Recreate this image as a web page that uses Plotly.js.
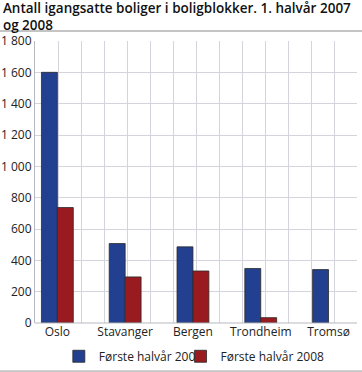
<!DOCTYPE html>
<html><head><meta charset="utf-8">
<script src="https://cdn.plot.ly/plotly-3.0.1.min.js"></script>
<style>html,body{margin:0;padding:0;background:#fff;}#c{width:362px;height:372px;}</style>
</head><body><div id="c"></div>
<script>
const categories = ["Oslo", "Stavanger", "Bergen", "Trondheim", "Tromsø"];
const series2007 = [1600, 507, 486, 348, 341];
const series2008 = [737, 294, 332, 34, null];
const seriesNames = ["Første halvår 2007", "Første halvår 2008"];
const yTicks = [0, 200, 400, 600, 800, 1000, 1200, 1400, 1600, 1800];

const font = "Open Sans, Noto Sans, sans-serif";
const traces = [
  {type: "scatter", x: [0, 14], y: [0, 0], xaxis: "x", yaxis: "y",
   mode: "lines", line: {width: 0}, showlegend: false, hoverinfo: "skip"},
  {type: "bar", x: categories, y: series2007, name: seriesNames[0], xaxis: "x2", legend: "legend",
   marker: {color: "#233f8f", line: {color: "#2a2a2a", width: 0.8}}},
  {type: "bar", x: categories, y: series2008, name: seriesNames[1], xaxis: "x2", legend: "legend2",
   marker: {color: "#9a1b1f", line: {color: "#2a2a2a", width: 0.8}}}
];
const legendStyle = {orientation: "h", xref: "paper", xanchor: "left", bgcolor: "rgba(0,0,0,0)",
  y: -0.118, yanchor: "middle", font: {size: 12, color: "#222"}};
const layout = {
  width: 362, height: 372,
  margin: {l: 34.5, r: 5, t: 41, b: 49.3, autoexpand: false},
  paper_bgcolor: "#fff", plot_bgcolor: "#fff",
  font: {family: font, size: 12, color: "#222"},
  separators: ", ",
  title: {text: "Antall igangsatte boliger i boligblokker. 1. halvår 2007<br>og 2008",
          font: {family: font, size: 13.5, color: "#111", weight: 600},
          x: 0.008, xanchor: "left", xref: "container", y: 0.966, yanchor: "middle", yref: "container",
          automargin: false},
  barmode: "group", bargap: 0.53, bargroupgap: 0,
  xaxis: {range: [0, 14], dtick: 1, showgrid: true, gridcolor: "#d4d5dc", gridwidth: 1,
          showticklabels: false, zeroline: false, ticks: "", showline: false},
  xaxis2: {type: "category", overlaying: "x", side: "bottom", range: [-0.33, 4.42],
           showgrid: false, zeroline: false, showline: false, ticks: "",
           tickfont: {size: 12, color: "#222"}},
  yaxis: {range: [0, 1800], tickvals: yTicks, tickformat: ",d", showgrid: true,
          gridcolor: "#d4d5dc", gridwidth: 1, zeroline: false, showline: true,
          linecolor: "#b8b9c0", linewidth: 1, ticks: "", tickfont: {size: 12, color: "#222"}},
  legend: Object.assign({}, legendStyle, {x: 0.074}),
  legend2: Object.assign({}, legendStyle, {x: 0.452}),
  shapes: [
    {type: "line", xref: "paper", yref: "paper", x0: -0.11, x1: 1.02, y0: 1.0355, y1: 1.0355,
     line: {color: "#c4c4c4", width: 2}},
    {type: "line", xref: "paper", yref: "paper", x0: -0.11, x1: 1.02, y0: -0.171, y1: -0.171,
     line: {color: "#c4c4c4", width: 2}},
    {type: "line", xref: "paper", yref: "paper", x0: 0, x1: 1, y0: 0, y1: 0,
     line: {color: "#b8b9c0", width: 1}}
  ]
};
Plotly.newPlot("c", traces, layout, {displayModeBar: false, staticPlot: true});
</script></body></html>
